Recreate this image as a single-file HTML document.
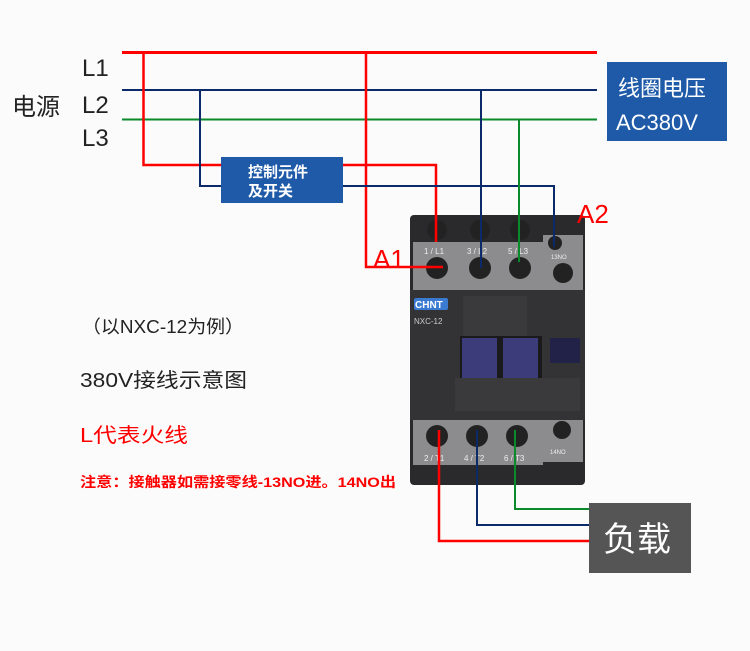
<!DOCTYPE html>
<html><head><meta charset="utf-8"><style>
body{margin:0;background:#fbfbfb;}
svg{display:block}
text{font-family:"Liberation Sans","Noto Sans CJK SC",sans-serif;}
</style></head><body>
<svg width="750" height="651" viewBox="0 0 750 651" xmlns="http://www.w3.org/2000/svg">
<rect width="750" height="651" fill="#fbfbfb"/>
<text x="12" y="115" font-size="24" fill="#222">电源</text>
<text x="82" y="76" font-size="24" fill="#222">L1</text>
<text x="82" y="113" font-size="24" fill="#222">L2</text>
<text x="82" y="146" font-size="24" fill="#222">L3</text>
<line x1="122" y1="52.5" x2="597" y2="52.5" stroke="#f00" stroke-width="3"/>
<line x1="122" y1="90" x2="597" y2="90" stroke="#0a2a6a" stroke-width="2"/>
<line x1="122" y1="119.5" x2="597" y2="119.5" stroke="#0a8a2a" stroke-width="2"/>
<rect x="410" y="215" width="175" height="270" rx="4" fill="#2a2a2c"/>
<rect x="413" y="242" width="130" height="48" fill="#8c8c8e"/>
<rect x="543" y="235" width="40" height="62" fill="#8c8c8e"/>
<rect x="413" y="420" width="130" height="45" fill="#8c8c8e"/>
<rect x="543" y="410" width="40" height="52" fill="#8c8c8e"/>
<rect x="410" y="290" width="175" height="130" fill="#333335"/>
<rect x="463" y="296" width="64" height="40" fill="#3a3a3c"/>
<rect x="460" y="336" width="82" height="58" fill="#1a1a1c"/>
<rect x="462" y="338" width="35" height="50" fill="#3c3c7a"/>
<rect x="503" y="338" width="35" height="50" fill="#3c3c7a"/>
<rect x="455" y="378" width="125" height="33" fill="#3a3a3c"/>
<rect x="550" y="338" width="30" height="25" fill="#222248"/>
<rect x="414" y="298" width="34" height="12" rx="2" fill="#3a7ad0"/>
<text x="415" y="308" font-size="10" font-weight="bold" fill="#fff">CHNT</text>
<text x="414" y="324" font-size="8" fill="#ccc">NXC-12</text>
<g fill="#222"><circle cx="437" cy="268" r="11"/><circle cx="480" cy="268" r="11"/><circle cx="520" cy="268" r="11"/><circle cx="563" cy="273" r="10"/>
<circle cx="437" cy="230" r="10"/><circle cx="480" cy="230" r="10"/><circle cx="520" cy="230" r="10"/><circle cx="555" cy="243" r="7"/>
<circle cx="437" cy="436" r="11"/><circle cx="477" cy="436" r="11"/><circle cx="517" cy="436" r="11"/><circle cx="562" cy="430" r="9"/></g>
<g font-size="8" fill="#eee"><text x="424" y="254">1 / L1</text><text x="467" y="254">3 / L2</text><text x="508" y="254">5 / L3</text><text x="551" y="259" font-size="6">13NO</text>
<text x="424" y="461">2 / T1</text><text x="464" y="461">4 / T2</text><text x="504" y="461">6 / T3</text><text x="550" y="454" font-size="6">14NO</text></g>
<polyline points="143.5,52.5 143.5,165 436,165 436,242" fill="none" stroke="#f00" stroke-width="2.5"/>
<polyline points="366,52.5 366,267 443,267" fill="none" stroke="#f00" stroke-width="2.5"/>
<polyline points="200,90 200,186 554,186 554,247" fill="none" stroke="#0a2a6a" stroke-width="2"/>
<line x1="481" y1="90" x2="481" y2="268" stroke="#0a2a6a" stroke-width="2"/>
<line x1="519" y1="119.5" x2="519" y2="262" stroke="#0a8a2a" stroke-width="2"/>
<rect x="221" y="157" width="122" height="46" fill="#1e5aa8"/>
<text x="248" y="177" font-size="15" font-weight="bold" fill="#fff">控制元件</text>
<text x="248" y="196" font-size="15" font-weight="bold" fill="#fff">及开关</text>
<rect x="607" y="62" width="120" height="79" fill="#1e5aa8"/>
<text x="618" y="96" font-size="22" fill="#fff">线圈电压</text>
<text x="616" y="130" font-size="22" fill="#fff">AC380V</text>
<text x="373" y="268" font-size="26" fill="#f00">A1</text>
<text x="577" y="223" font-size="26" fill="#f00">A2</text>
<polyline points="439,430 439,541 589,541" fill="none" stroke="#f00" stroke-width="2.5"/>
<polyline points="477,430 477,525 589,525" fill="none" stroke="#0a2a6a" stroke-width="2"/>
<polyline points="515,430 515,509 589,509" fill="none" stroke="#0a8a2a" stroke-width="2"/>
<rect x="589" y="503" width="102" height="70" fill="#555"/>
<text x="603" y="551" font-size="34" fill="#fff">负载</text>
<text x="82" y="333" font-size="18" fill="#222" textLength="162" lengthAdjust="spacingAndGlyphs">（以NXC-12为例）</text>
<text x="80" y="387" font-size="20" fill="#222" textLength="167" lengthAdjust="spacingAndGlyphs">380V接线示意图</text>
<text x="80" y="442" font-size="20" fill="#f00" textLength="108" lengthAdjust="spacingAndGlyphs">L代表火线</text>
<text x="80" y="487" font-size="14" font-weight="bold" fill="#f00" textLength="316" lengthAdjust="spacingAndGlyphs">注意：接触器如需接零线-13NO进。14NO出</text>
</svg>
</body></html>
